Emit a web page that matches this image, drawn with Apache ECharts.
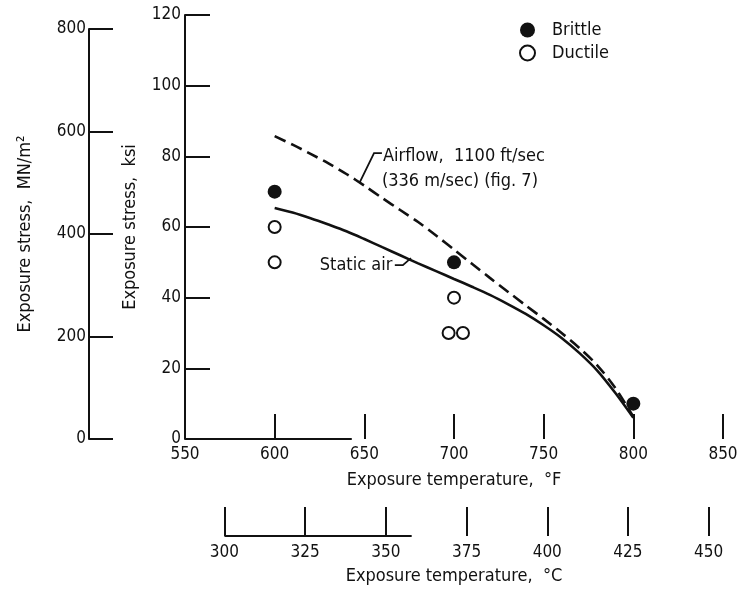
<!DOCTYPE html>
<html><head><meta charset="utf-8">
<script src="https://cdn.jsdelivr.net/npm/echarts@6/dist/echarts.min.js"></script>
<style>html,body{margin:0;padding:0;background:#fff}#c{width:738px;height:589px}</style>
</head><body><div id="c"></div>
<script>
const FONT = "'DejaVu Sans Condensed','Liberation Sans Narrow','DejaVu Sans',sans-serif";
const INK = '#111';

// axis ranges / ticks
const fRange = [550, 850];
const fTickStep = 50;
const cTicks = [300, 325, 350, 375, 400, 425, 450];
const ksiRange = [0, 120];
const ksiStep = 20;
const mnRange = [0, 800];
const mnStep = 200;
// visible axis-line spans (the scanned original shows only part of each line)
const fAxisSpan = [550, 643];
const cAxisSpan = [300, 358];

// data points
const brittleF = [600, 700, 800];
const brittleKsi = [70, 50, 10];
const ductileF = [600, 600, 700, 697, 705];
const ductileKsi = [60, 50, 40, 30, 30];

// curves
const staticF = [600, 610, 620, 630, 640, 650, 660, 670, 680, 690, 700, 710, 720, 730, 740, 750, 760, 770, 780, 790, 800];
const staticKsi = [65.4, 64.1, 62.5, 60.7, 58.8, 56.6, 54.3, 52.0, 49.7, 47.5, 45.3, 43.1, 40.8, 38.2, 35.4, 32.2, 28.6, 24.3, 19.3, 13.0, 6];
const airF = [600, 610, 620, 630, 640, 650, 660, 670, 680, 690, 700, 710, 720, 730, 740, 750, 760, 770, 780, 790, 800];
const airKsi = [85.7, 83.3, 80.7, 78.0, 75.0, 71.7, 68.2, 64.8, 61.4, 57.6, 53.6, 49.6, 45.6, 41.7, 37.8, 34.0, 30.0, 25.7, 20.8, 14.4, 6.3];

const fToC = f => (f - 32) * 5 / 9;
const zip = (a, b) => a.map((v, i) => [v, b[i]]);

const chart = echarts.init(document.getElementById('c'), null, {renderer: 'canvas'});
const tick = {fontFamily: FONT, fontSize: 17, color: INK};
const title = {fontFamily: FONT, fontSize: 18, color: INK};

const option = {
  animation: false,
  backgroundColor: '#fff',
  textStyle: {fontFamily: FONT},
  legend: {
    data: ['Brittle', 'Ductile'],
    orient: 'vertical',
    left: 519, top: 21, padding: 0,
    itemWidth: 15, itemHeight: 15, itemGap: 5,
    icon: 'circle',
    textStyle: {fontFamily: FONT, fontSize: 18, color: INK, padding: [0, 0, 0, 12]}
  },
  grid: [
    {left: 185, top: 15, width: 538, height: 424, outerBoundsMode: 'none', containLabel: false},
    {left: 185, top: 500, width: 538, height: 36, outerBoundsMode: 'none', containLabel: false},
    {left: 89, top: 29, width: 20, height: 410, outerBoundsMode: 'none', containLabel: false}
  ],
  xAxis: [
    {
      gridIndex: 0, type: 'value', min: fRange[0], max: fRange[1], interval: fTickStep,
      axisLine: {show: false},
      axisTick: {show: true, inside: true, length: 25, lineStyle: {color: INK, width: 2}},
      axisLabel: Object.assign({margin: 7, showMinLabel: true, showMaxLabel: true}, tick),
      splitLine: {show: false},
      name: 'Exposure temperature,  °F', nameLocation: 'middle', nameGap: 32,
      nameTextStyle: title
    },
    {
      gridIndex: 1, type: 'value', min: fToC(fRange[0]), max: fToC(fRange[1]),
      axisLine: {show: false},
      axisTick: {show: true, inside: true, length: 29, customValues: cTicks, lineStyle: {color: INK, width: 2}},
      axisLabel: Object.assign({margin: 8, customValues: cTicks}, tick),
      splitLine: {show: false},
      name: 'Exposure temperature,  °C', nameLocation: 'middle', nameGap: 31,
      nameTextStyle: title
    },
    {gridIndex: 2, type: 'value', min: 0, max: 1, show: false}
  ],
  yAxis: [
    {
      gridIndex: 0, type: 'value', min: ksiRange[0], max: ksiRange[1], interval: ksiStep,
      axisLine: {show: true, lineStyle: {color: INK, width: 2}},
      axisTick: {show: true, inside: true, length: 25, lineStyle: {color: INK, width: 2}},
      axisLabel: Object.assign({margin: 4}, tick),
      splitLine: {show: false},
      name: 'Exposure stress,  ksi', nameLocation: 'middle', nameGap: 46,
      nameTextStyle: title
    },
    {gridIndex: 1, type: 'value', min: 0, max: 1, show: false},
    {
      gridIndex: 2, type: 'value', min: mnRange[0], max: mnRange[1], interval: mnStep,
      axisLine: {show: true, lineStyle: {color: INK, width: 2}},
      axisTick: {show: true, inside: true, length: 24, lineStyle: {color: INK, width: 2}},
      axisLabel: Object.assign({margin: 3}, tick),
      splitLine: {show: false},
      name: 'Exposure stress,  MN/m²', nameLocation: 'middle', nameGap: 55,
      nameTextStyle: title
    }
  ],
  series: [
    {
      name: 'Static air', type: 'line', xAxisIndex: 0, yAxisIndex: 0,
      data: zip(staticF, staticKsi), smooth: 0.3, showSymbol: false, clip: false,
      lineStyle: {color: INK, width: 2.6}, z: 2
    },
    {
      name: 'Airflow', type: 'line', xAxisIndex: 0, yAxisIndex: 0,
      data: zip(airF, airKsi), smooth: 0.3, showSymbol: false, clip: false,
      lineStyle: {color: INK, width: 2.6, type: [12, 6]}, z: 2
    },
    {
      name: 'Brittle', type: 'scatter', xAxisIndex: 0, yAxisIndex: 0,
      data: zip(brittleF, brittleKsi), symbol: 'circle', symbolSize: 14,
      itemStyle: {color: INK, opacity: 1}, z: 5
    },
    {
      name: 'Ductile', type: 'scatter', xAxisIndex: 0, yAxisIndex: 0,
      data: zip(ductileF, ductileKsi), symbol: 'circle', symbolSize: 12,
      itemStyle: {color: '#fff', borderColor: INK, borderWidth: 2, opacity: 1}, z: 5
    },
    {
      name: 'F axis line', type: 'line', xAxisIndex: 0, yAxisIndex: 0,
      data: fAxisSpan.map(v => [v, ksiRange[0]]), showSymbol: false, clip: false,
      lineStyle: {color: INK, width: 2}, silent: true, z: 1
    },
    {
      name: 'C axis line', type: 'line', xAxisIndex: 1, yAxisIndex: 1,
      data: cAxisSpan.map(v => [v, 0]), showSymbol: false, clip: false,
      lineStyle: {color: INK, width: 2}, silent: true, z: 1
    }
  ]
};
chart.setOption(option);

// annotations, anchored in data coordinates (°F, ksi)
const airLabelAt = [660.4, 80.0];
const airLabel2At = [659.8, 72.8];
const airLeader = [[659.8, 80.9], [655.4, 80.9], [647.5, 72.7]];
const staticLabelRightAt = [665.6, 49.2];
const staticLeader = [[667, 49.2], [671.5, 49.2], [676, 51.2]];

const P = p => chart.convertToPixel({xAxisIndex: 0, yAxisIndex: 0}, p);
const font18 = '18px ' + FONT;
const a1 = P(airLabelAt), a2 = P(airLabel2At), s1 = P(staticLabelRightAt);
chart.setOption({
  graphic: [
    {type: 'text', x: a1[0], y: a1[1], style: {text: 'Airflow,  1100 ft/sec', font: font18, fill: INK, align: 'left', verticalAlign: 'middle'}},
    {type: 'text', x: a2[0], y: a2[1], style: {text: '(336 m/sec) (fig. 7)', font: font18, fill: INK, align: 'left', verticalAlign: 'middle'}},
    {type: 'polyline', shape: {points: airLeader.map(P)}, style: {stroke: INK, lineWidth: 1.8, fill: null}},
    {type: 'text', x: s1[0], y: s1[1], style: {text: 'Static air', font: font18, fill: INK, align: 'right', verticalAlign: 'middle'}},
    {type: 'polyline', shape: {points: staticLeader.map(P)}, style: {stroke: INK, lineWidth: 1.8, fill: null}}
  ]
});
</script>
</body></html>
